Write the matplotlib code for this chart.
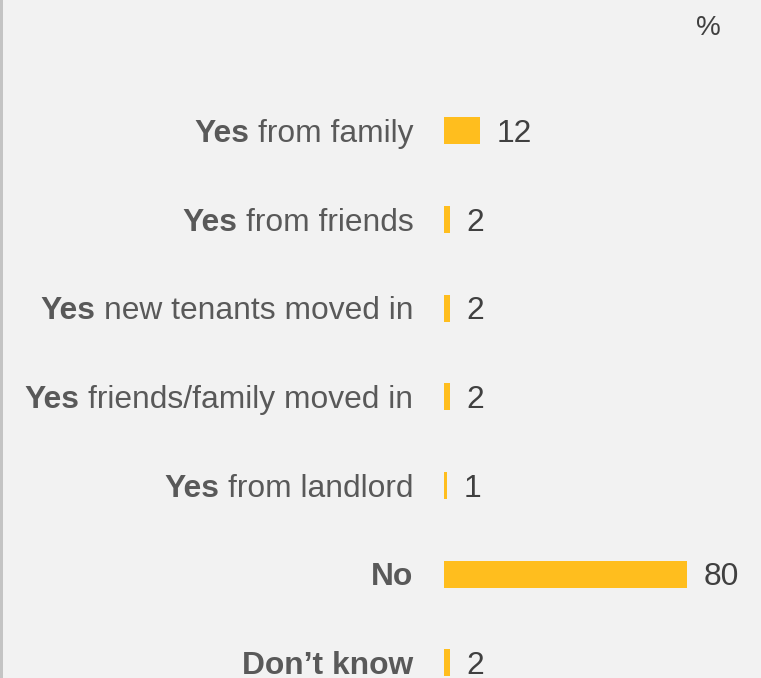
import matplotlib
matplotlib.use('Agg')
import matplotlib.pyplot as plt
import matplotlib.patches as mpatches

# ── Data ──────────────────────────────────────────────────────────────────────
bold_parts = ['Yes', 'Yes', 'Yes', 'Yes', 'Yes', 'No', 'Don\u2019t know']
rest_parts = ['from family', 'from friends', 'new tenants moved in',
              'friends/family moved in', 'from landlord', '', '']
values = [12, 2, 2, 2, 1, 80, 2]

# ── Style ─────────────────────────────────────────────────────────────────────
BG = '#f2f2f2'
BAR = '#ffbe1e'
LBL = '#595959'
VAL = '#404040'
FS = 22.9
CAP = -0.358 * FS  # baseline shift so caps sit centred on the bar
plt.rcParams['font.family'] = ['Liberation Sans', 'DejaVu Sans']

W, H = 761, 678
fig = plt.figure(figsize=(W / 100, H / 100), dpi=100, facecolor=BG)

# axes: bar origin at x=443.7px, ~3.04 px per percent
x0 = 443.7
ax = fig.add_axes([x0 / W, 0, 304 / W, 1])
ax.set_facecolor(BG)
ax.set_xlim(0, 100)
row0, step = 130.7, 88.66
ax.set_ylim((H - row0) / step, -row0 / step)
ax.axis('off')

ys = list(range(len(values)))
ax.barh(ys, values, height=27 / step, color=BAR, edgecolor='none')

# value labels
for y, v in zip(ys, values):
    ax.annotate(str(v), xy=(v, y), xytext=(12.2, CAP), textcoords='offset points',
                ha='left', va='baseline', fontsize=FS, color=VAL)

# category labels: regular tail right-aligned, bold head placed before it
lbl_off = -(x0 - 413.5) * 0.72  # points
for y, b, r in zip(ys, bold_parts, rest_parts):
    if r:
        t = ax.annotate(r, xy=(0, y), xytext=(lbl_off, CAP),
                        textcoords='offset points', ha='right', va='baseline',
                        fontsize=FS, color=LBL)
        ax.annotate(b, xy=(0, 0), xycoords=t, xytext=(-6.4, 0),
                    textcoords='offset points', ha='right', va='bottom',
                    fontsize=FS, color=LBL, fontweight='bold')
    else:
        ax.annotate(b, xy=(0, y), xytext=(lbl_off, CAP),
                    textcoords='offset points', ha='right', va='baseline',
                    fontsize=FS, color=LBL, fontweight='bold')

# unit marker
fig.text(708 / W, 1 - 35 / H, '%', ha='center', va='baseline',
         fontsize=20, color=VAL)

# left border
fig.patches.append(mpatches.Rectangle((0, 0), 3 / W, 1, transform=fig.transFigure,
                                      facecolor='#c4c4c4', edgecolor='none'))

plt.savefig('out.png', dpi=100, facecolor=BG)
plt.close()
